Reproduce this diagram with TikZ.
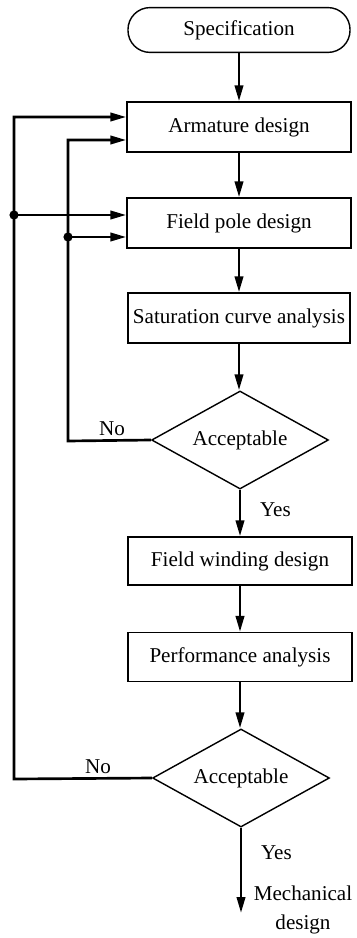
\documentclass[tikz,border=0pt]{standalone}
\usepackage{fontspec}
\setmainfont{Liberation Serif}
\usepackage{tikz}
\usetikzlibrary{arrows.meta,shapes.geometric}
\tikzstyle{flow_t} = [rectangle, rounded corners=0.55cm, draw=black, line width=1pt, minimum width=5.55cm, minimum height=1.12cm, align=center]
\tikzstyle{flow_b} = [rectangle, draw=black, line width=1pt, minimum width=5.6cm, minimum height=1.25cm, inner sep=1pt, align=center]
\tikzstyle{flow_d} = [diamond, draw=black, line width=1pt, minimum width=4.42cm, minimum height=2.45cm, inner sep=0pt, aspect=1.8]
\tikzstyle{flow_dot} = [circle, fill=black, inner sep=0pt, minimum size=0.23cm]

\begin{document}
\begin{tikzpicture}[x=0.025cm, y=-0.025cm, font=\fontsize{15}{18}\selectfont,
->, >={Triangle[length=0.4cm,width=0.21cm]}, line width=1.9pt]
\useasboundingbox (0,0) rectangle (356,938);

% main column
\node [flow_t] (spec) at (239,30) {Specification};
\node [flow_b] (arm) at (239,127) {Armature design};
\node [flow_b] (pole) at (239,223) {Field pole design};
\node [flow_b, minimum width=5.55cm] (sat) at (239,318) {Saturation curve analysis};
\node [flow_d] (acc1) at (240,440) {Acceptable};
\node [flow_b, minimum height=1.2cm] (wind) at (240,561) {Field winding design};
\node [flow_b, minimum height=1.22cm] (perf) at (240,657) {Performance analysis};
\node [flow_d] (acc2) at (241,778) {Acceptable};
\coordinate (mech) at (241,913);
\node [align=center, inner sep=0pt, font=\fontsize{15}{21}\selectfont] (mechtxt) at (303,910) {Mechanical\\design};

\draw (spec) -- (spec.south |- arm.north);
\draw (arm) -- (arm.south |- pole.north);
\draw (pole) -- (pole.south |- sat.north);
\draw (sat) -- (acc1.north -| sat.south);
\draw (acc1) -- node[right=10pt, pos=0.42] {Yes} (acc1.south |- wind.north);
\draw (wind) -- (perf);
\draw (perf) -- (acc2.north -| perf.south);
\draw (acc2) -- node[right=10pt, pos=0.29] {Yes} (mech);

% inner loop back to the pole/armature boxes
\coordinate (l1b) at (68,441);
\coordinate (l1t) at (68,140);
\node [flow_dot] (d1) at (68,237) {};
\draw (acc1.west) -- node[above, pos=0.47, yshift=-1pt] {No} (l1b) -- (l1t) -- (l1t -| arm.west);
\draw (d1.center) -- (d1.center -| pole.west);

% outer loop
\coordinate (l2b) at (14,779);
\coordinate (l2t) at (14,117);
\node [flow_dot] (d2) at (14,215) {};
\draw (acc2.west) -- node[above, pos=0.39, yshift=-1pt] {No} (l2b) -- (l2t) -- (l2t -| arm.west);
\draw (d2.center) -- (d2.center -| pole.west);
\end{tikzpicture}
\end{document}
